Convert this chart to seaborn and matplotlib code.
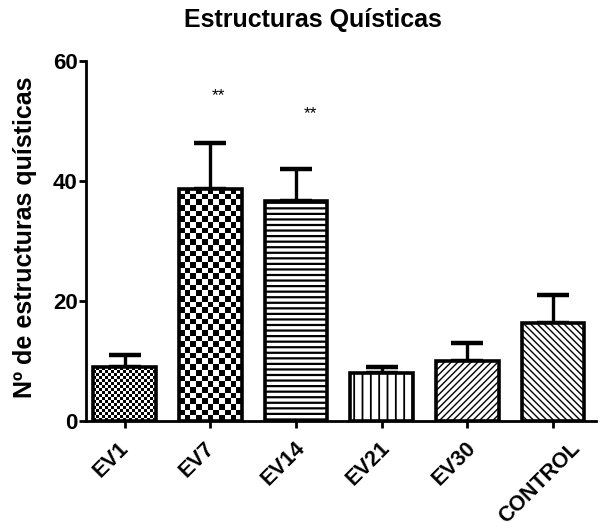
import numpy as np
import pandas as pd
import matplotlib
matplotlib.use("Agg")
import matplotlib.pyplot as plt
import matplotlib.transforms as mtransforms
import seaborn as sns

categories = ["EV1", "EV7", "EV14", "EV21", "EV30", "CONTROL"]
means = [9.0, 38.7, 36.7, 8.0, 10.0, 16.3]
errors = [2.0, 7.6, 5.3, 1.0, 3.0, 4.7]
signif = ["", "**", "**", "", "", ""]
signif_y = [0, 54.2, 51.3, 0, 0, 0]

sns.set_style("ticks")
plt.rcParams["font.family"] = ["Liberation Sans", "DejaVu Sans"]
plt.rcParams["hatch.linewidth"] = 1.0
for k in ["text.color", "axes.labelcolor", "xtick.color", "ytick.color", "axes.edgecolor"]:
    plt.rcParams[k] = "black"

df = pd.DataFrame({"grupo": categories, "valor": means})

fig = plt.figure(figsize=(6.16, 5.30), dpi=100)
ax = fig.add_axes([86/616, 1-421/530, (596-86)/616, (421-61)/530])

sns.barplot(data=df, x="grupo", y="valor", order=categories, color="white",
            edgecolor="black", linewidth=2.6, width=0.73, errorbar=None, ax=ax)

pos = np.arange(len(categories))
ax.errorbar(pos, means, yerr=[np.zeros(len(means)), errors], fmt="none",
            ecolor="black", elinewidth=2.4, capsize=11.5, capthick=3.2, zorder=1)

ax.set_xlim(-0.45, len(categories) - 0.5)
ax.set_ylim(0, 60)

hatches = [None, None, "---", "||", "/////", "\\\\\\\\\\"]
hatch_lw = [1.0, 1.0, 1.6, 1.3, 1.0, 1.0]
checker_px = [3.0, 5.6, None, None, None, None]
fig.canvas.draw()
for patch, h, hlw, cpx in zip(ax.patches, hatches, hatch_lw, checker_px):
    patch.set_zorder(3)
    if h is not None:
        patch.set_hatch(h)
        if hasattr(patch, "set_hatch_linewidth"):
            patch.set_hatch_linewidth(hlw)
    if cpx is not None:
        bb = patch.get_window_extent()
        nx = max(1, int(round(bb.width / cpx)))
        ny = max(1, int(round(bb.height / cpx)))
        arr = (np.indices((ny, nx)).sum(axis=0) % 2).astype(float)
        x0, y0 = patch.get_x(), patch.get_y()
        w, hgt = patch.get_width(), patch.get_height()
        im = ax.imshow(arr, cmap="gray_r", vmin=0, vmax=1, interpolation="nearest",
                       extent=[x0, x0 + w, y0, y0 + hgt], aspect="auto", zorder=2.5)
        im.set_clip_path(patch)
        patch.set_facecolor("none")

ax.set_xlim(-0.45, len(categories) - 0.5)
ax.set_ylim(0, 60)

star_dx = [0, 0.1, 0.17, 0, 0, 0]
for p, s, sy, dx in zip(pos, signif, signif_y, star_dx):
    if s:
        ax.text(p + dx, sy, s, ha="center", va="center", fontsize=12.5)

ax.set_yticks([0, 20, 40, 60])
ax.set_xlabel("")
ax.set_ylabel("Nº de estructuras quísticas", fontsize=18, fontweight="bold")
ax.yaxis.set_label_coords(-0.096, 0.51)
fig.text(313/616, 1 - 20/530, "Estructuras Quísticas",
         fontsize=18, fontweight="bold", ha="center", va="center")
ax.tick_params(axis="both", width=2, length=5, color="black")
ax.tick_params(axis="x", pad=7)
ax.tick_params(axis="y", pad=1)
for lab in ax.get_yticklabels():
    lab.set_fontweight("bold")
    lab.set_fontsize(16)
ax.set_xticks(pos)
ax.set_xticklabels(categories, rotation=45, ha="center", va="top",
                   rotation_mode="default", fontsize=15.5, fontweight="bold")
offset = mtransforms.ScaledTranslation(-9.4/72, 0, fig.dpi_scale_trans)
for lab in ax.get_xticklabels():
    lab.set_transform(lab.get_transform() + offset)
for sp in ["left", "bottom"]:
    ax.spines[sp].set_linewidth(2)
    ax.spines[sp].set_color("black")
sns.despine(ax=ax)

fig.savefig("out.png", dpi=100)
